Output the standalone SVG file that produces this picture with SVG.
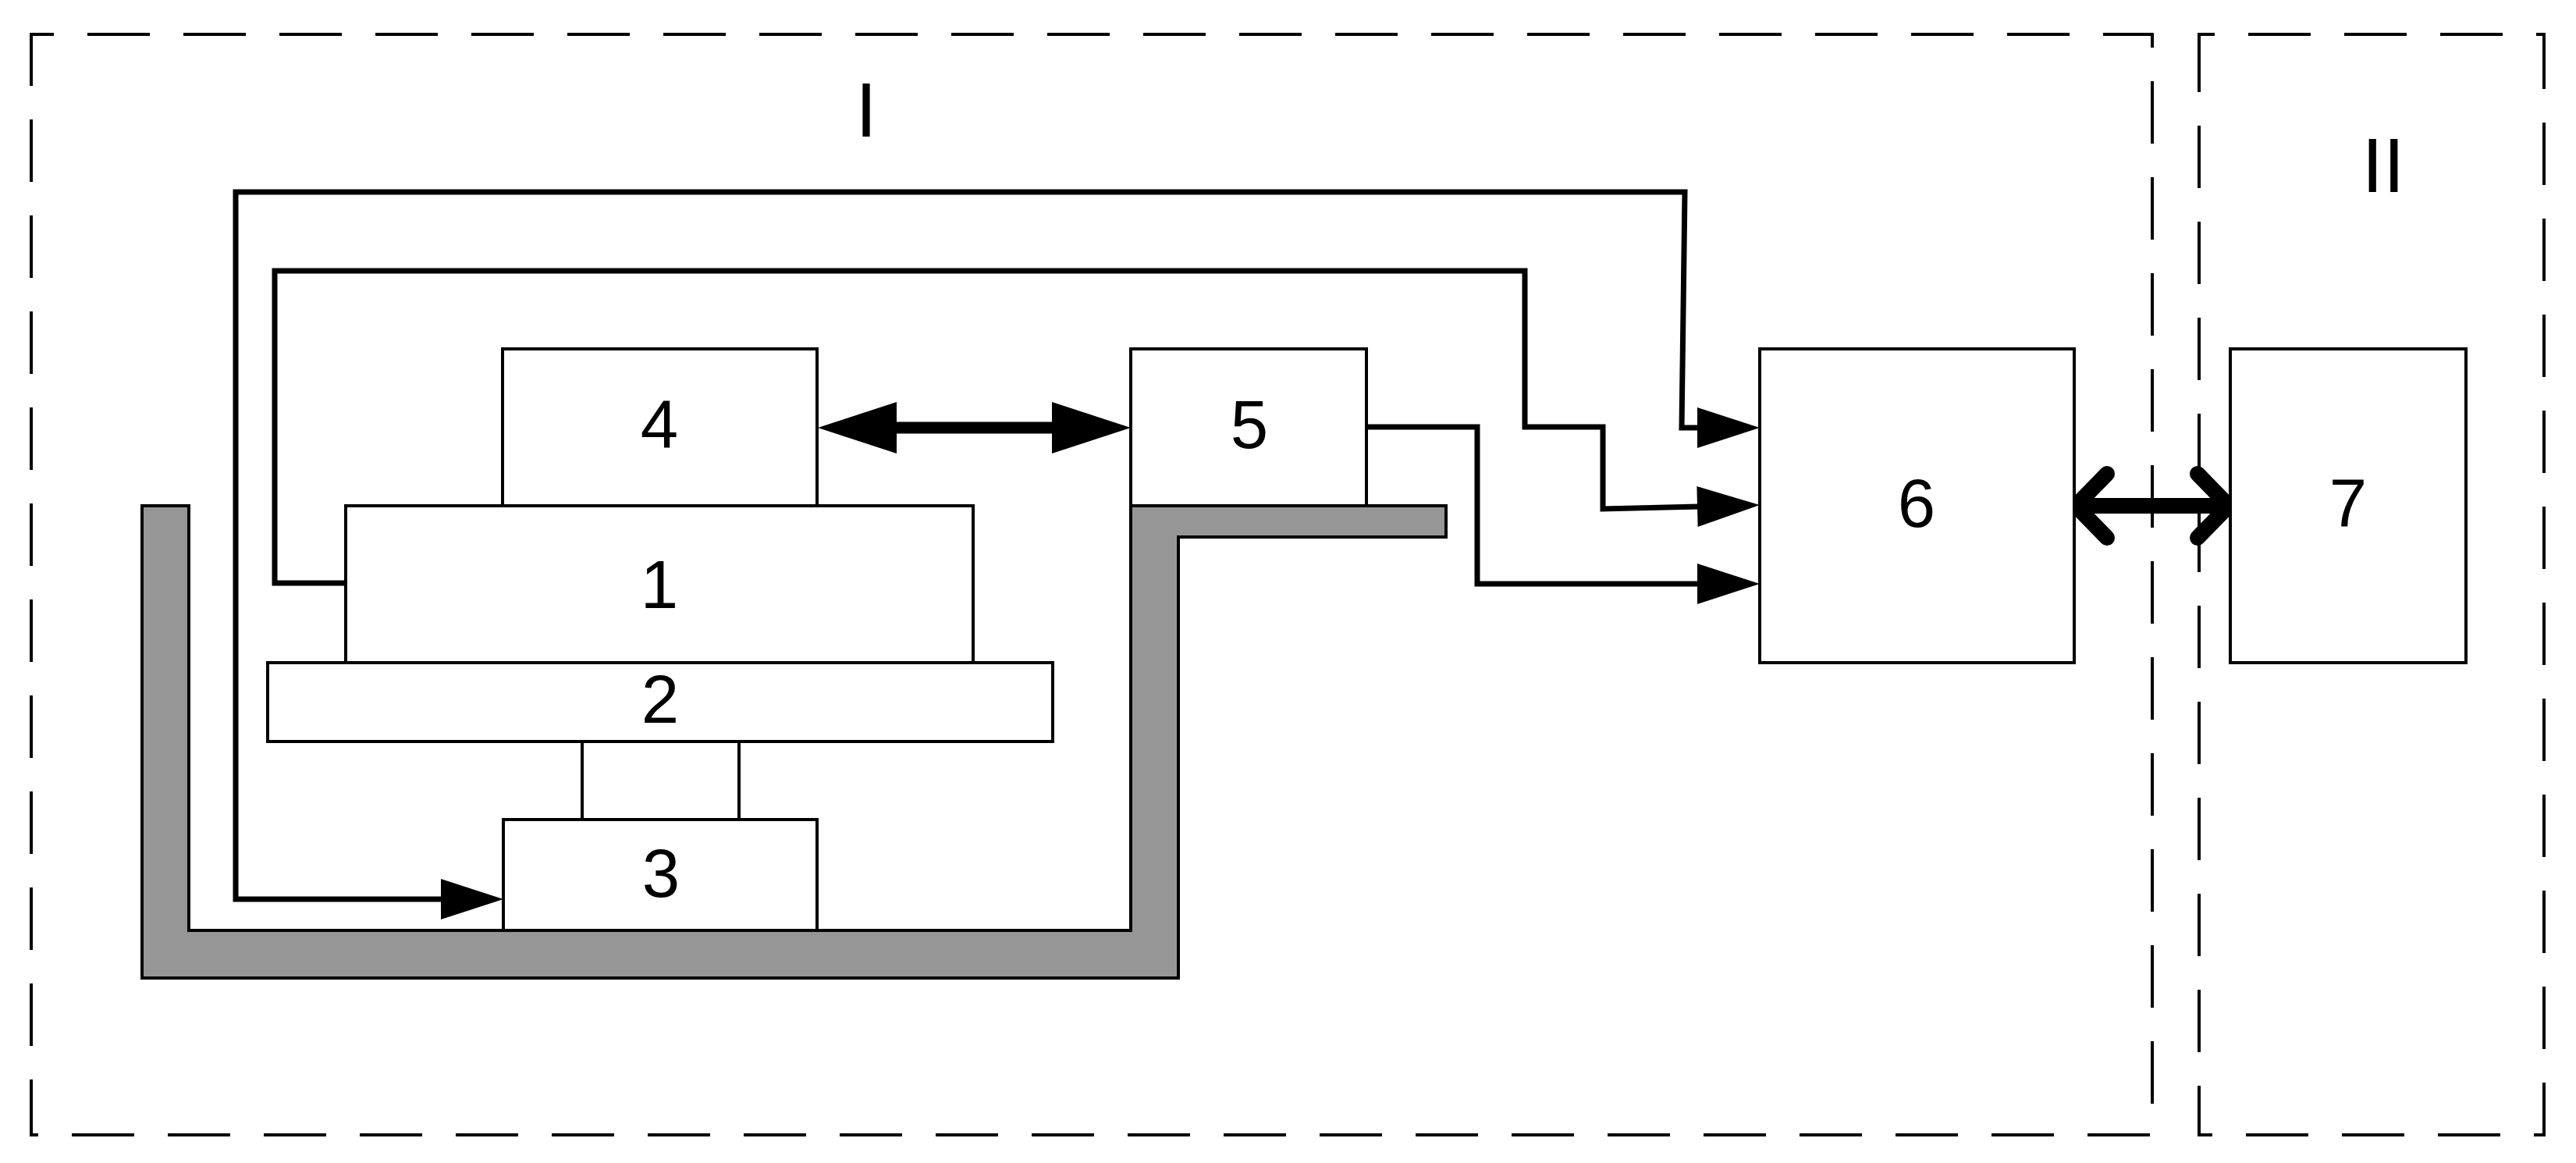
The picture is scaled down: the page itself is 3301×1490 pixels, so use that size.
<svg xmlns="http://www.w3.org/2000/svg" width="3301" height="1490" viewBox="0 0 3301 1490">
<style>
.region{fill:none;stroke:#000;stroke-width:4;stroke-dasharray:80 43}
.box{fill:#fff;stroke:#000;stroke-width:4}
.tray{fill:#969696;stroke:#000;stroke-width:4;stroke-linejoin:miter}
.wire{fill:none;stroke:#000;stroke-width:7;stroke-linejoin:miter}
.thin{fill:none;stroke:#000;stroke-width:4}
.lbl{font-family:"Liberation Sans",Arial,sans-serif;font-size:87px;text-anchor:middle;fill:#000}
.rom{font-family:"Liberation Sans",Arial,sans-serif;font-size:99px;text-anchor:middle;fill:#000}
</style>
<defs>
<marker id="ah" markerUnits="userSpaceOnUse" viewBox="-2 -27 82 54" markerWidth="82" markerHeight="54" refX="0" refY="0" orient="auto-start-reverse" overflow="visible">
<path d="M-2,-26 L78,0 L-2,26 z" fill="#000"/>
</marker>
<marker id="ahb" markerUnits="userSpaceOnUse" viewBox="-2 -34 103 68" markerWidth="103" markerHeight="68" refX="0" refY="0" orient="auto-start-reverse" overflow="visible">
<path d="M-2,-33 L99,0 L-2,33 z" fill="#000"/>
</marker>
<marker id="chev" markerUnits="userSpaceOnUse" viewBox="-60 -60 80 120" markerWidth="80" markerHeight="120" refX="0" refY="0" orient="auto-start-reverse" overflow="visible">
<path d="M-40,-41 L0,0 L-40,41" fill="none" stroke="#000" stroke-width="20" stroke-linecap="round" stroke-linejoin="round"/>
</marker>
</defs>
<rect width="3301" height="1490" fill="#fff"/>

<g id="region-I">
<rect class="region" x="40" y="44" width="2718" height="1410" stroke-dashoffset="51"/>
<text class="rom" x="1110" y="175">I</text>
</g>
<g id="region-II">
<rect class="region" x="2818" y="44" width="442" height="1410" stroke-dashoffset="60"/>
<text class="rom" x="3054" y="246">II</text>
</g>

<g id="tray">
<path class="tray" d="M182,648 L242,648 L242,1192 L1449,1192 L1449,648 L1853,648 L1853,688 L1510,688 L1510,1253 L182,1253 Z"/>
</g>

<g id="connectors">
<path class="thin" d="M746,950 L746,1050 M947,950 L947,1050"/>
<path class="wire" d="M2177,548 L2155,548 L2159,246 L302,246 L302,1152 L567,1152" marker-start="url(#ah)" marker-end="url(#ah)"/>
<path class="wire" d="M443,747 L352,747 L352,347 L1954,347 L1954,547 L2054,547 L2054,652 L2177,649" marker-end="url(#ah)"/>
<path class="wire" d="M1751,547 L1893,547 L1893,748 L2177,748" marker-end="url(#ah)"/>
<path d="M1147,548 L1350,548" fill="none" stroke="#000" stroke-width="15" marker-start="url(#ahb)" marker-end="url(#ahb)"/>
<path d="M2660,648 L2856,648" fill="none" stroke="#000" stroke-width="20" marker-start="url(#chev)" marker-end="url(#chev)"/>
</g>

<g id="node-4">
<rect class="box" x="644" y="447" width="403" height="201"/>
<text class="lbl" x="845" y="574">4</text>
</g>
<g id="node-5">
<rect class="box" x="1449" y="447" width="302" height="201"/>
<text class="lbl" x="1601" y="574">5</text>
</g>
<g id="node-1">
<rect class="box" x="443" y="648" width="804" height="201"/>
<text class="lbl" x="845" y="779">1</text>
</g>
<g id="node-2">
<rect class="box" x="343" y="849" width="1006" height="101"/>
<text class="lbl" x="846" y="926">2</text>
</g>
<g id="node-3">
<rect class="box" x="645" y="1050" width="402" height="142"/>
<text class="lbl" x="847" y="1149">3</text>
</g>
<g id="node-6">
<rect class="box" x="2255" y="447" width="403" height="402"/>
<text class="lbl" x="2456" y="675">6</text>
</g>
<g id="node-7">
<rect class="box" x="2858" y="447" width="302" height="402"/>
<text class="lbl" x="3009" y="675">7</text>
</g>
</svg>
